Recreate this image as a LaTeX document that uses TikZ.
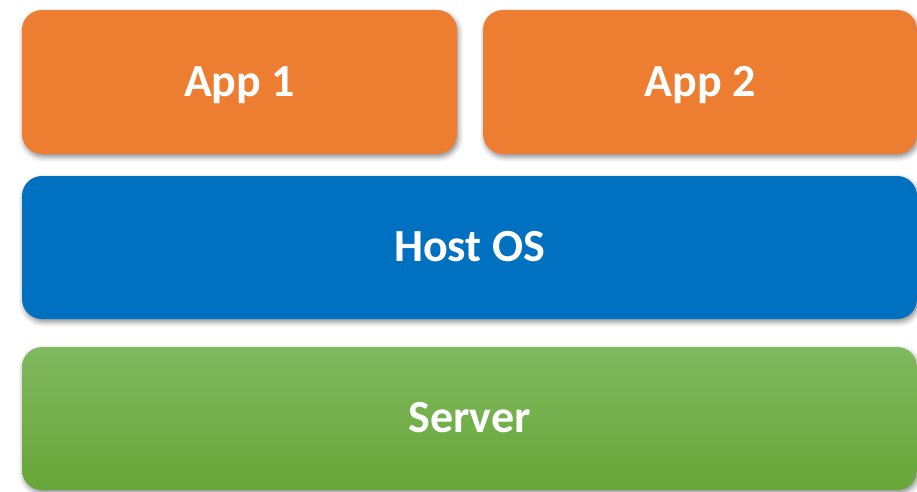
\documentclass[tikz,border=0pt]{standalone}
\usepackage{fontspec}
\setmainfont{Carlito}
\usetikzlibrary{shadows.blur}
\definecolor{apporange}{RGB}{237,125,49}
\definecolor{osblue}{RGB}{0,112,192}
\definecolor{greentop}{RGB}{128,185,95}
\definecolor{greenbot}{RGB}{103,166,56}
\tikzset{
  layer/.style={rounded corners=20pt, inner sep=0pt, text=white,
    font=\fontsize{46}{52}\selectfont\bfseries,
    text height=28pt, text depth=0pt,
    blur shadow={shadow xshift=1.5pt, shadow yshift=-3pt, shadow blur radius=5pt, shadow opacity=45}},
}
\begin{document}
\begin{tikzpicture}[x=1pt,y=-1pt]
\useasboundingbox (0,0) rectangle (917,491);
\clip (0,0) rectangle (917,491);
\node[layer, fill=apporange, minimum width=435pt, minimum height=144pt] (app1) at (239.5,82) {App 1};
\node[layer, fill=apporange, minimum width=434pt, minimum height=144pt] (app2) at (700,82) {App 2};
\node[layer, fill=osblue, minimum width=895pt, minimum height=143pt] (host) at (469.5,247.5) {Host OS};
\node[layer, top color=greentop, bottom color=greenbot, minimum width=895pt, minimum height=143pt] (server) at (469.5,418.5) {Server};
\end{tikzpicture}
\end{document}
